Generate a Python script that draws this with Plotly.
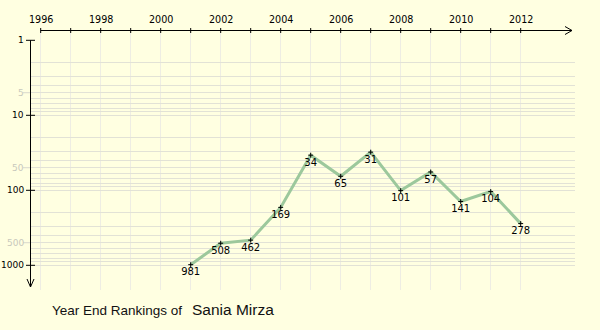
import math
import plotly.graph_objects as go

# ---- data ----
years = [2001, 2002, 2003, 2004, 2005, 2006, 2007, 2008, 2009, 2010, 2011, 2012]
ranks = [981, 508, 462, 169, 34, 65, 31, 101, 57, 141, 104, 278]
axis_years = list(range(1996, 2013))
x_label_years = [1996, 1998, 2000, 2002, 2004, 2006, 2008, 2010, 2012]
y_major = [1, 10, 100, 1000]
y_faint = [5, 50, 500]
y_grid = [m * 10 ** e for e in range(0, 3) for m in range(2, 11)]
player = "Sania Mirza"
caption = "Year End Rankings of"

# ---- geometry ----
W, H = 600, 330
L, R, T, B = 30, 25, 30, 40
PW, PH = W - L - R, H - T - B
PX_PER_YEAR = 30.0
PX_PER_DEC = 75.0
X0 = 1996 - (40.7 - L) / PX_PER_YEAR
X1 = X0 + PW / PX_PER_YEAR
LOG_TOP = (T - 40.3) / PX_PER_DEC
LOG_BOT = LOG_TOP + PH / PX_PER_DEC

BG = "#FFFFE1"
FONT = "DejaVu Sans"


def xp(px):
    return (px - L) / PW


def yp(py):
    return 1 - (py - T) / PH


def val_py(v):
    return T + (math.log10(v) - LOG_TOP) * PX_PER_DEC


fig = go.Figure()
fig.add_trace(go.Scatter(
    x=years, y=ranks, mode="lines+markers+text",
    line=dict(color="#9CC89C", width=3),
    marker=dict(symbol="cross-thin", size=3.5, color="black",
                line=dict(color="black", width=1)),
    text=[str(r) for r in ranks], textposition="bottom center",
    textfont=dict(family=FONT, size=10, color="black"),
    cliponaxis=False, hoverinfo="skip", showlegend=False,
))

shapes = []
ann = []
# x axis line + arrow
ax_y = yp(30.5)
tipx = X0 + (572 - L) / PX_PER_YEAR
armx = X0 + (565 - L) / PX_PER_YEAR
shapes.append(dict(type="line", xref="x", yref="paper", x0=1996, x1=tipx,
                   y0=ax_y, y1=ax_y, line=dict(color="black", width=1)))
for dy in (-4, 4):
    shapes.append(dict(type="line", xref="x", yref="paper", x0=armx, x1=tipx,
                       y0=yp(30.5 + dy), y1=ax_y, line=dict(color="black", width=1)))
for yr in axis_years:
    shapes.append(dict(type="line", xref="x", yref="paper", x0=yr, x1=yr,
                       y0=yp(28), y1=yp(33), line=dict(color="black", width=1)))
for yr in x_label_years:
    ann.append(dict(x=yr, y=yp(20), xref="x", yref="paper", text=str(yr), showarrow=False,
                    xanchor="center", yanchor="middle",
                    font=dict(family=FONT, size=9.6, color="black")))

# y axis line + arrow
ax_x = xp(30.5)
shapes.append(dict(type="line", xref="paper", yref="paper", x0=ax_x, x1=ax_x,
                   y0=yp(val_py(1)), y1=yp(287), line=dict(color="black", width=1)))
for dx in (-3.5, 3.5):
    shapes.append(dict(type="line", xref="paper", yref="paper", x0=xp(30.5 + dx), x1=ax_x,
                       y0=yp(279), y1=yp(287), line=dict(color="black", width=1)))
for v in y_major:
    py = yp(val_py(v))
    shapes.append(dict(type="line", xref="paper", yref="paper", x0=xp(26), x1=xp(35),
                       y0=py, y1=py, line=dict(color="black", width=1)))
    ann.append(dict(x=xp(25), y=py, xref="paper", yref="paper", text=str(v), showarrow=False,
                    xanchor="right", yanchor="middle", borderpad=0,
                    font=dict(family=FONT, size=9, color="black")))
for v in y_faint:
    py = yp(val_py(v))
    shapes.append(dict(type="line", xref="paper", yref="paper", x0=xp(23), x1=xp(30),
                       y0=py, y1=py, line=dict(color="#D8D8CC", width=1)))
    ann.append(dict(x=xp(25), y=py, xref="paper", yref="paper", text=str(v), showarrow=False,
                    xanchor="right", yanchor="middle", borderpad=0,
                    font=dict(family=FONT, size=9, color="#C8C8BC")))

# caption
ann.append(dict(x=xp(50), y=yp(310), xref="paper", yref="paper", text=caption, showarrow=False,
                xanchor="left", yanchor="middle",
                font=dict(family="Liberation Sans", size=13.5, color="#111111")))
ann.append(dict(x=xp(190), y=yp(309), xref="paper", yref="paper", text=player, showarrow=False,
                xanchor="left", yanchor="middle",
                font=dict(family="Liberation Sans", size=15.5, color="#111111")))

fig.update_layout(
    width=W, height=H, margin=dict(l=L, r=R, t=T, b=B),
    paper_bgcolor=BG, plot_bgcolor=BG,
    shapes=shapes, annotations=ann,
    xaxis=dict(range=[X0, X1], tickvals=axis_years, showticklabels=False, ticks="",
               showgrid=True, gridcolor="#EEEDE3", gridwidth=1, zeroline=False, showline=False,
               fixedrange=True),
    yaxis=dict(type="log", range=[LOG_BOT, LOG_TOP], tickvals=y_grid, showticklabels=False,
               ticks="", showgrid=True, gridcolor="#E2E2D6", gridwidth=1, zeroline=False,
               showline=False, fixedrange=True),
)
fig.write_html("out.html")
